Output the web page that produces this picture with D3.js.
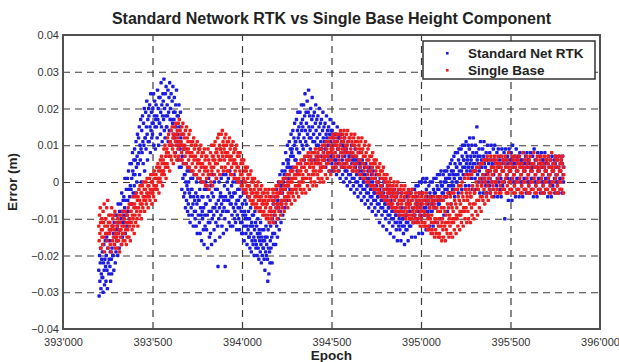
<!DOCTYPE html>
<html>
<head>
<meta charset="utf-8">
<script src="https://cdn.jsdelivr.net/npm/d3@7"></script>
<style>
  body { margin: 0; background: #fff; }
  svg { font-family: "Liberation Sans", Arial, sans-serif; }
</style>
</head>
<body>
<div id="chart"></div>
<script>
// Error readings (mm), one block per 20 epochs,
// 10 readings per block at 2 epoch spacing: [blockStart, r1..r10]
const blueBlocks = [
  [393200,-24,-31,-20,-27,-22,-18,-29,-25,-21,-26],[393220,-19,-26,-30,-22,-17,-24,-28,-21,-16,-23],
  [393240,-27,-20,-15,-24,-29,-18,-22,-14,-25,-21],[393260,-16,-23,-19,-27,-13,-21,-25,-18,-12,-20],
  [393280,-20,-14,-24,-11,-17,-9,-22,-15,-19,-13],[393300,-9,-16,-12,-20,-6,-14,-11,-18,-8,-13],
  [393320,-13,-6,-10,-17,-3,-8,-15,-11,-5,-9],[393340,-4,-11,-7,1,-14,-5,-9,-2,-8,-12],
  [393360,1,-5,-8,3,-2,-10,-4,5,-1,-6],[393380,-2,5,1,-6,8,3,-3,2,6,-1],
  [393400,9,2,6,-3,11,4,0,7,13,5],[393420,5,12,8,15,2,10,6,17,9,0],
  [393440,14,8,18,11,5,16,10,20,3,12],[393460,12,19,9,15,22,13,6,17,11,20],
  [393480,18,11,21,15,8,24,14,19,12,16],[393500,13,20,16,24,10,18,22,15,9,17],
  [393520,21,15,18,12,25,17,20,10,23,16],[393540,16,23,13,19,27,15,21,11,18,24],
  [393560,22,17,28,14,20,12,24,18,26,15],[393580,15,21,18,25,11,19,23,14,27,17],
  [393600,20,14,24,17,10,22,16,26,13,19],[393620,17,23,12,19,8,21,15,25,11,18],
  [393640,13,6,18,10,21,4,15,9,19,12],[393660,4,10,-2,7,13,1,5,-4,9,2],
  [393680,-3,2,-7,0,5,-5,-1,3,-8,-2],[393700,-6,0,-9,-3,3,-11,-4,1,-7,-2],
  [393720,-2,-9,1,-6,-12,-4,2,-8,-5,-10],[393740,-8,-3,-12,0,-6,-14,-4,1,-9,-5],
  [393760,-5,-11,-2,-14,-7,0,-9,-16,-4,-8],[393780,-10,-4,-13,-7,-17,-2,-9,-12,-6,0],
  [393800,-6,-13,-2,-9,-18,-4,-11,1,-8,-15],[393820,-11,-5,-14,-1,-8,-17,-3,-10,2,-7],
  [393840,-4,-9,-13,0,-7,-16,-2,-11,-6,1],[393860,-8,-2,-12,-23,-5,-10,0,-7,-15,-4],
  [393880,-3,-9,1,-6,-12,-4,-8,2,-14,-5],[393900,-7,-1,-10,-23,-4,2,-8,-13,-5,0],
  [393920,-2,-8,1,-5,-11,-3,3,-6,-12,-4],[393940,-6,-1,-9,-4,-12,0,-7,-3,2,-10],
  [393960,-8,-3,-11,-6,0,-13,-5,-9,-2,-7],[393980,-5,-10,-2,-13,-7,-4,-11,0,-8,-14],
  [394000,-11,-6,-14,-9,-3,-12,-16,-8,-5,-10],[394020,-9,-14,-6,-12,-17,-10,-4,-13,-8,-15],
  [394040,-15,-10,-18,-12,-7,-14,-19,-11,-16,-9],[394060,-12,-17,-9,-15,-20,-13,-8,-16,-11,-18],
  [394080,-17,-12,-20,-14,-10,-18,-15,-21,-13,-16],[394100,-14,-19,-11,-17,-22,-15,-13,-20,-16,-18],
  [394120,-18,-13,-21,-16,-24,-15,-19,-12,-20,-17],[394140,-15,-21,-27,-13,-18,-25,-11,-19,-22,-16],
  [394160,-12,-18,-8,-15,-22,-10,-14,-6,-17,-11],[394180,-9,-14,-4,-11,-17,-7,-2,-12,-6,-15],
  [394200,-5,-10,0,-7,-13,-3,2,-8,-1,-11],[394220,-1,-6,3,-3,-9,5,0,-5,2,-7],
  [394240,3,-2,8,1,-5,6,4,10,-1,5],[394260,6,1,11,4,-2,9,7,13,3,8],
  [394280,9,4,14,7,1,12,10,16,6,11],[394300,11,6,17,9,3,14,19,12,8,15],
  [394320,13,8,19,11,5,16,21,14,10,17],[394340,15,9,21,12,6,18,24,14,11,19],
  [394360,16,10,22,13,7,19,25,15,12,18],[394380,14,9,20,12,6,17,23,15,11,18],
  [394400,13,8,19,11,6,16,21,14,10,17],[394420,12,7,18,10,5,15,20,13,9,16],
  [394440,11,7,17,9,4,14,19,12,8,15],[394460,11,6,16,9,4,13,18,12,7,14],
  [394480,10,6,15,8,3,13,17,11,7,14],[394500,9,5,14,7,3,12,16,10,6,13],
  [394520,8,4,13,6,2,11,15,9,5,12],[394540,7,3,12,5,1,10,13,8,4,11],
  [394560,6,2,10,4,0,9,12,7,3,8],[394580,5,1,9,3,-1,8,11,6,2,7],
  [394600,4,0,8,2,-2,7,10,5,1,6],[394620,3,-1,7,1,-3,6,9,4,0,5],
  [394640,2,-2,6,0,-4,5,8,3,-1,4],[394660,1,-3,5,-1,-5,3,6,2,-2,0],
  [394680,0,-4,4,-2,-6,2,5,1,-3,-1],[394700,-1,-5,3,-3,-7,1,4,0,-4,-2],
  [394720,-2,-6,2,-4,-8,0,3,-1,-5,-3],[394740,-3,-7,1,-5,-9,-1,2,-2,-6,-4],
  [394760,-4,-8,0,-6,-11,-2,1,-3,-7,-5],[394780,-5,-9,-1,-7,-12,-3,0,-4,-8,-6],
  [394800,-6,-10,-2,-8,-13,-4,-1,-5,-9,-7],[394820,-7,-11,-3,-9,-14,-5,-2,-6,-10,-8],
  [394840,-8,-12,-3,-10,-15,-5,-2,-7,-11,-9],[394860,-9,-13,-4,-11,-16,-6,-3,-8,-12,-10],
  [394880,-9,-13,-5,-11,-16,-7,-3,-8,-12,-10],[394900,-10,-14,-5,-12,-17,-7,-4,-9,-13,-11],
  [394920,-9,-13,-4,-11,-16,-6,-3,-8,-12,-10],[394940,-8,-12,-3,-10,-15,-5,-2,-7,-11,-9],
  [394960,-7,-11,-2,-9,-15,-4,-1,-6,-10,-8],[394980,-6,-10,-1,-8,-14,-3,0,-5,-9,-7],
  [395000,-6,-10,0,-8,-14,-3,1,-5,-9,-7],[395020,-5,-9,0,-7,-13,-2,1,-4,-8,-6],
  [395040,-5,-9,-1,-7,-12,-3,0,-4,-8,-6],[395060,-4,-8,0,-6,-12,-2,1,-3,-7,-5],
  [395080,-3,-7,1,-5,-11,-1,2,-2,-6,-4],[395100,-2,-6,2,-4,-10,0,3,-1,-5,-3],
  [395120,-1,-5,2,-3,-9,0,3,-2,-4,1],[395140,0,-4,3,-2,-8,1,4,-1,-3,2],
  [395160,1,-3,5,-1,-6,3,6,0,-2,2],[395180,3,-1,7,1,-4,5,8,2,0,4],
  [395200,4,0,8,2,-3,6,9,3,1,5],[395220,5,1,9,3,-2,7,10,4,2,6],
  [395240,6,2,10,4,-1,8,11,5,3,7],[395260,6,2,10,4,-1,9,12,5,3,7],
  [395280,6,1,10,4,-2,8,12,5,3,7],[395300,5,1,10,3,-2,8,15,6,2,7],
  [395320,5,0,9,3,-3,7,11,4,1,6],[395340,4,0,9,2,-3,7,11,5,1,6],
  [395360,4,-1,8,2,-3,6,10,3,0,5],[395380,3,-1,8,1,-3,6,10,4,0,5],
  [395400,4,-2,9,2,-4,6,10,3,0,5],[395420,3,-1,8,1,-4,5,9,4,0,6],
  [395440,2,-2,7,1,-4,5,9,3,-1,6],[395460,3,-2,8,0,-10,5,9,4,1,6],
  [395480,2,-3,7,1,-5,5,9,3,0,6],[395500,3,-2,8,1,-5,6,10,4,0,5],
  [395520,2,-1,7,0,-4,5,9,3,1,6],[395540,3,-2,7,1,-4,5,8,4,0,6],
  [395560,2,-1,6,0,-4,4,8,3,1,5],[395580,3,-2,7,1,-3,5,8,4,0,6],
  [395600,2,-1,6,0,-3,5,8,3,1,4],[395620,3,-2,7,1,-4,5,9,4,0,6],
  [395640,2,-1,6,0,-4,4,8,3,1,5],[395660,3,-2,7,1,-3,5,8,4,0,6],
  [395680,2,-1,6,0,-3,4,8,3,1,5],[395700,3,-2,6,1,-4,5,7,2,0,4],
  [395720,2,-1,6,0,-4,4,7,3,-1,5],[395740,3,-2,6,1,-3,5,7,2,0,4],
  [395760,2,-1,6,0,-3,4,7,3,1,5],[395780,3,-2,6,1,-3,5,7,2,0,4]
];

const redBlocks = [
  [393200,-12,-16,-9,-14,-7,-11,-18,-13,-10,-15],[393220,-13,-17,-8,-11,-15,-6,-19,-12,-10,-14],
  [393240,-10,-14,-7,-16,-12,-5,-18,-11,-9,-13],[393260,-14,-11,-17,-9,-13,-19,-7,-12,-16,-10],
  [393280,-12,-15,-9,-17,-13,-8,-14,-18,-11,-16],[393300,-15,-12,-18,-10,-14,-16,-9,-13,-19,-11],
  [393320,-11,-15,-13,-9,-17,-12,-14,-8,-16,-10],[393340,-14,-10,-12,-16,-8,-13,-11,-17,-9,-15],
  [393360,-9,-13,-7,-11,-15,-6,-12,-10,-16,-8],[393380,-8,-11,-6,-13,-9,-4,-10,-12,-7,-14],
  [393400,-6,-9,-4,-11,-7,-3,-8,-10,-5,-12],[393420,-4,-7,-2,-9,-5,-1,-6,-8,-3,-10],
  [393440,-3,-6,-1,-7,-4,0,-5,-2,-8,-4],[393460,-2,-5,0,-6,-3,1,-4,-1,-7,-3],
  [393480,-1,-4,1,-5,-2,2,-3,0,-6,-2],[393500,0,-3,2,-4,-1,3,-2,1,-5,-1],
  [393520,2,-1,4,-2,1,5,0,3,-3,1],[393540,4,1,6,0,3,7,2,5,-1,3],
  [393560,6,3,9,2,5,10,4,7,1,8],[393580,9,5,12,4,8,13,7,10,3,11],
  [393600,11,7,14,6,10,15,9,12,5,13],[393620,12,8,15,7,11,16,10,13,6,14],
  [393640,12,9,16,7,11,17,10,14,6,13],[393660,11,8,15,6,10,16,9,13,5,12],
  [393680,10,7,14,5,9,15,8,12,4,11],[393700,9,6,13,4,8,14,7,11,3,10],
  [393720,8,5,11,3,7,12,6,9,2,10],[393740,7,4,10,2,6,11,5,8,1,9],
  [393760,6,3,9,1,5,10,4,7,0,8],[393780,5,2,8,0,4,9,3,6,-1,7],
  [393800,4,1,7,-1,3,9,2,6,-2,5],[393820,5,2,8,0,4,10,3,7,-1,6],
  [393840,7,4,10,2,6,11,5,8,1,9],[393860,8,5,12,3,7,13,6,10,2,9],
  [393880,9,6,13,4,8,14,7,11,3,10],[393900,9,6,12,4,8,13,7,10,3,11],
  [393920,8,5,11,3,7,12,6,9,2,10],[393940,7,4,10,2,6,11,5,8,1,9],
  [393960,6,3,9,1,5,10,4,7,0,8],[393980,4,1,7,0,3,8,2,5,-1,6],
  [394000,2,-1,5,-2,1,6,0,3,-3,4],[394020,0,-2,3,-3,-1,4,1,2,-4,-1],
  [394040,-1,-4,2,-5,-2,3,-3,0,-6,1],[394060,-3,-5,0,-6,-2,1,-4,-1,-7,-3],
  [394080,-4,-6,-1,-7,-3,0,-5,-2,-8,-4],[394100,-5,-7,-2,-8,-4,-1,-6,-3,-9,-5],
  [394120,-6,-8,-3,-9,-5,-2,-7,-4,-10,-6],[394140,-6,-9,-3,-10,-5,-2,-8,-4,-11,-7],
  [394160,-7,-9,-4,-10,-5,-2,-8,-3,-11,-6],[394180,-5,-8,-2,-9,-4,-1,-7,-3,-10,-6],
  [394200,-4,-7,-1,-8,-3,0,-6,-2,-9,-5],[394220,-3,-6,0,-7,-2,1,-5,-1,-8,-4],
  [394240,-2,-5,1,-6,-1,2,-4,0,-7,-3],[394260,-1,-4,2,-5,0,3,-3,1,-6,-2],
  [394280,0,-3,3,-4,1,4,-2,2,-5,-1],[394300,1,-2,4,-3,2,5,-1,3,-4,0],
  [394320,2,-1,5,-2,3,6,0,4,-3,1],[394340,2,0,6,-2,4,7,1,5,-3,3],
  [394360,3,1,7,-1,5,8,2,6,-2,4],[394380,4,1,7,0,5,8,2,6,-1,3],
  [394400,4,2,8,0,5,9,3,7,-1,6],[394420,5,2,8,1,6,9,3,7,0,4],
  [394440,5,3,9,1,6,10,4,8,0,7],[394460,6,4,10,2,7,11,5,9,1,8],
  [394480,7,5,11,3,8,12,6,10,2,9],[394500,8,6,12,4,9,13,7,11,3,10],
  [394520,8,5,12,4,10,13,7,11,3,9],[394540,9,6,13,5,10,14,8,12,4,11],
  [394560,9,7,13,5,11,14,8,12,4,10],[394580,9,6,13,5,10,14,8,11,4,12],
  [394600,8,6,12,4,9,13,7,11,3,10],[394620,8,5,12,4,10,13,7,11,3,9],
  [394640,7,5,11,3,8,12,6,10,2,9],[394660,6,4,11,2,8,12,5,9,1,7],
  [394680,5,3,10,1,7,11,4,8,0,6],[394700,4,2,9,0,6,10,3,7,-1,5],
  [394720,3,1,7,-1,4,8,2,5,-2,6],[394740,1,-1,5,-2,3,6,0,4,-3,2],
  [394760,0,-2,4,-3,2,5,-1,3,-4,1],[394780,-1,-3,3,-4,1,4,-2,2,-5,0],
  [394800,-2,-4,1,-5,0,2,-3,-1,-6,-2],[394820,-3,-5,0,-6,-1,1,-4,-2,-7,-3],
  [394840,-4,-6,-1,-7,-2,0,-5,-3,-8,-4],[394860,-4,-7,-1,-8,-3,0,-6,-2,-9,-5],
  [394880,-5,-7,-2,-8,-4,-1,-6,-3,-9,-5],[394900,-5,-8,-2,-9,-4,-1,-7,-3,-10,-6],
  [394920,-6,-8,-3,-9,-5,-2,-7,-4,-10,-6],[394940,-6,-9,-3,-10,-5,-2,-8,-4,-11,-7],
  [394960,-7,-9,-4,-10,-6,-3,-8,-5,-11,-7],[394980,-7,-10,-4,-11,-6,-3,-9,-5,-12,-8],
  [395000,-7,-10,-4,-11,-6,-3,-8,-5,-12,-9],[395020,-8,-11,-4,-12,-6,-3,-9,-5,-13,-10],
  [395040,-9,-12,-5,-13,-7,-4,-10,-6,-14,-11],[395060,-9,-13,-5,-14,-7,-4,-11,-6,-15,-10],
  [395080,-10,-13,-5,-14,-7,-4,-11,-8,-15,-12],[395100,-10,-14,-5,-15,-8,-4,-12,-7,-16,-11],
  [395120,-10,-13,-5,-15,-7,-4,-12,-8,-16,-11],[395140,-9,-13,-4,-14,-6,-3,-11,-7,-15,-10],
  [395160,-9,-12,-4,-14,-6,-3,-11,-7,-15,-10],[395180,-8,-11,-3,-13,-5,-2,-10,-6,-14,-9],
  [395200,-7,-10,-2,-12,-4,-1,-9,-5,-13,-8],[395220,-6,-9,-1,-11,-3,0,-8,-4,-12,-7],
  [395240,-5,-8,1,-10,-2,2,-7,-3,-11,-4],[395260,-5,-8,1,-10,-2,2,-6,-3,-11,-4],
  [395280,-4,-7,2,-9,-1,3,-6,-2,-10,-3],[395300,-3,-6,3,-8,0,4,-5,-1,-9,-2],
  [395320,-2,-5,4,-7,1,5,-4,0,-8,-1],[395340,-1,-4,5,-5,2,6,-2,1,-6,0],
  [395360,0,-3,6,-4,3,7,-1,2,-5,1],[395380,1,-2,6,-3,3,7,0,4,-4,2],
  [395400,2,-1,6,-2,4,7,0,3,-3,5],[395420,3,0,6,-2,4,7,1,5,-3,2],
  [395440,2,-1,5,-3,4,7,0,3,-2,6],[395460,3,0,6,-2,5,7,1,4,-3,2],
  [395480,2,-1,6,-3,4,8,0,3,-2,5],[395500,3,0,5,-2,4,7,1,6,-3,2],
  [395520,2,-1,6,-3,4,7,0,3,-2,5],[395540,3,0,6,-2,5,7,1,4,-3,2],
  [395560,2,-1,5,-3,4,8,0,3,-2,6],[395580,3,0,6,-2,4,7,1,5,-3,2],
  [395600,2,-1,6,-3,4,7,0,3,-2,5],[395620,3,0,5,-2,5,8,1,4,-3,2],
  [395640,2,-1,6,-3,4,7,0,3,-2,5],[395660,3,0,6,-2,4,7,1,5,-3,2],
  [395680,2,-1,5,-3,4,7,0,3,-2,6],[395700,3,0,6,-2,5,7,1,4,-3,2],
  [395720,2,-1,6,-3,4,8,0,3,-2,5],[395740,3,0,5,-2,4,7,1,6,-3,2],
  [395760,2,-1,6,-3,4,7,0,3,-2,5],[395780,3,0,6,-2,5,7,1,4,-3,2]
];

const xTicks = [393000, 393500, 394000, 394500, 395000, 395500, 396000];
const yTicks = [-0.04, -0.03, -0.02, -0.01, 0, 0.01, 0.02, 0.03, 0.04];
const seriesNames = ["Standard Net RTK", "Single Base"];
const seriesColors = ["#1c1ce0", "#ee1c1c"];

const width = 619, height = 362;
const plotLeft = 63, plotRight = 600, plotTop = 35, plotBottom = 329;
const blockSpan = 20;

function toPoints(blocks) {
  const pts = [];
  blocks.forEach(b => {
    const n = b.length - 1;
    for (let i = 1; i <= n; i++) {
      pts.push({ epoch: b[0] + (i - 1) * blockSpan / n, err: b[i] / 1000 });
    }
  });
  return pts;
}

const svg = d3.select("#chart").append("svg")
  .attr("width", width)
  .attr("height", height);

const x = d3.scaleLinear().domain([393000, 396000]).range([plotLeft, plotRight]);
const y = d3.scaleLinear().domain([-0.04, 0.04]).range([plotBottom, plotTop]);

// grid
svg.append("g")
  .attr("transform", "translate(0," + plotBottom + ")")
  .call(d3.axisBottom(x).tickValues(xTicks.slice(1, -1)).tickSize(-(plotBottom - plotTop)).tickFormat(""))
  .call(g => g.select(".domain").remove())
  .selectAll("line")
  .attr("stroke", "#3a3a3a").attr("stroke-width", 1.2).attr("stroke-dasharray", "7,5");

svg.append("g")
  .attr("transform", "translate(" + plotLeft + ",0)")
  .call(d3.axisLeft(y).tickValues(yTicks.slice(1, -1)).tickSize(-(plotRight - plotLeft)).tickFormat(""))
  .call(g => g.select(".domain").remove())
  .selectAll("line")
  .attr("stroke", "#3a3a3a").attr("stroke-width", 1.2).attr("stroke-dasharray", "7,5");

// points
svg.append("clipPath").attr("id", "clip")
  .append("rect").attr("x", plotLeft).attr("y", plotTop)
  .attr("width", plotRight - plotLeft).attr("height", plotBottom - plotTop);

const pts = svg.append("g").attr("clip-path", "url(#clip)");
[blueBlocks, redBlocks].forEach((blocks, k) => {
  pts.append("g")
    .selectAll("rect")
    .data(toPoints(blocks))
    .join("rect")
    .attr("x", d => x(d.epoch) - 1.7)
    .attr("y", d => y(d.err) - 1.7)
    .attr("width", 3.4)
    .attr("height", 3.4)
    .attr("rx", 0.9)
    .attr("fill", seriesColors[k]);
});

// frame
svg.append("rect")
  .attr("x", plotLeft).attr("y", plotTop)
  .attr("width", plotRight - plotLeft).attr("height", plotBottom - plotTop)
  .attr("fill", "none").attr("stroke", "#505050").attr("stroke-width", 2);

// tick labels
svg.append("g")
  .attr("transform", "translate(0," + plotBottom + ")")
  .call(d3.axisBottom(x).tickValues(xTicks).tickSize(0).tickPadding(9)
    .tickFormat(d => d3.format(",")(d).replace(",", "'")))
  .call(g => g.select(".domain").remove())
  .selectAll("text")
  .attr("font-size", 11).attr("fill", "#333").attr("font-family", "Liberation Sans, Arial, sans-serif");

svg.append("g")
  .attr("transform", "translate(" + plotLeft + ",0)")
  .call(d3.axisLeft(y).tickValues(yTicks).tickSize(0).tickPadding(4)
    .tickFormat(d => d === 0 ? "0" : d3.format(".2f")(d)))
  .call(g => g.select(".domain").remove())
  .selectAll("text")
  .attr("font-size", 11).attr("fill", "#333").attr("font-family", "Liberation Sans, Arial, sans-serif");

// title and axis labels
svg.append("text")
  .attr("x", (plotLeft + plotRight) / 2).attr("y", 24)
  .attr("text-anchor", "middle")
  .attr("font-size", 16).attr("font-weight", "bold").attr("fill", "#222")
  .text("Standard Network RTK vs Single Base Height Component");

svg.append("text")
  .attr("x", (plotLeft + plotRight) / 2).attr("y", 360)
  .attr("text-anchor", "middle")
  .attr("font-size", 13.5).attr("font-weight", "bold").attr("fill", "#222")
  .text("Epoch");

svg.append("text")
  .attr("transform", "translate(17," + y(0) + ") rotate(-90)")
  .attr("text-anchor", "middle")
  .attr("font-size", 13.5).attr("font-weight", "bold").attr("fill", "#222")
  .text("Error (m)");

// legend
const lg = svg.append("g").attr("transform", "translate(423,41)");
lg.append("rect").attr("width", 172).attr("height", 38)
  .attr("fill", "#fff").attr("stroke", "#333").attr("stroke-width", 1.5);
seriesNames.forEach((name, i) => {
  lg.append("rect").attr("x", 23).attr("y", 11 + i * 17).attr("width", 2.6).attr("height", 2.6)
    .attr("fill", seriesColors[i]);
  lg.append("text").attr("x", 45).attr("y", 17 + i * 17)
    .attr("font-size", 13.5).attr("font-weight", "bold").attr("fill", "#222")
    .text(name);
});
</script>
</body>
</html>
